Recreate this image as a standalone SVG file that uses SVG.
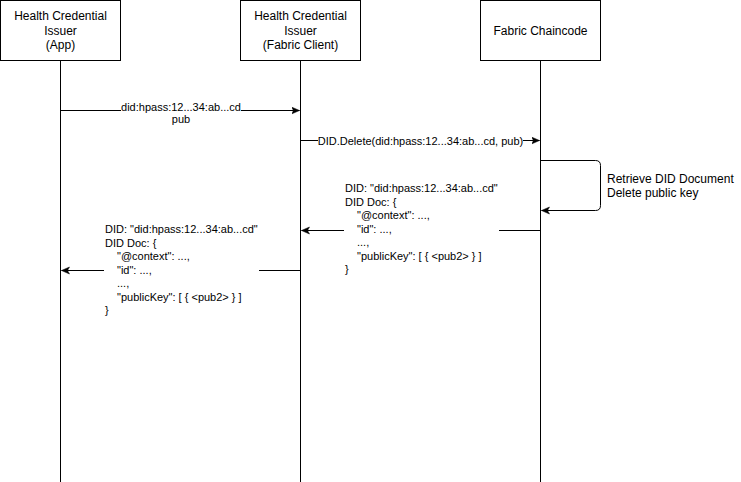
<svg xmlns="http://www.w3.org/2000/svg" width="741" height="482" viewBox="0 0 741 482">
<style>
.box{fill:#fff;stroke:#000;stroke-width:1}
.life{stroke:#000;stroke-width:1;fill:none}
.msg{stroke:#000;stroke-width:1;fill:none}
.t12{font-family:"Liberation Sans",Arial,sans-serif;font-size:12px;fill:#000}
.t11{font-family:"Liberation Sans",Arial,sans-serif;font-size:11px;fill:#000}
.bg{fill:#fff}
</style>
<defs>
<marker id="ah" markerWidth="10" markerHeight="10" refX="8" refY="4" orient="auto" markerUnits="userSpaceOnUse">
<path d="M0,0.5 L8,4 L0,7.5 L2,4 z" fill="#000" stroke="#000" stroke-width="0.5"/>
</marker>
</defs>
<rect width="741" height="482" fill="#fff"/>
<g id="lifelines">
<line class="life" x1="60.5" y1="60" x2="60.5" y2="482"/>
<line class="life" x1="300.5" y1="60" x2="300.5" y2="482"/>
<line class="life" x1="540.5" y1="60" x2="540.5" y2="482"/>
</g>
<g id="node-app">
<rect class="box" x="0.5" y="0.5" width="120" height="60"/>
<text class="t12" text-anchor="middle" x="60.5"><tspan x="60.5" y="20">Health Credential</tspan><tspan x="60.5" y="34.5">Issuer</tspan><tspan x="60.5" y="49">(App)</tspan></text>
</g>
<g id="node-client">
<rect class="box" x="240.5" y="0.5" width="120" height="60"/>
<text class="t12" text-anchor="middle" x="300.5"><tspan x="300.5" y="20">Health Credential</tspan><tspan x="300.5" y="34.5">Issuer</tspan><tspan x="300.5" y="49">(Fabric Client)</tspan></text>
</g>
<g id="node-chaincode">
<rect class="box" x="480.5" y="0.5" width="120" height="60"/>
<text class="t12" text-anchor="middle" x="540.5" y="34.5">Fabric Chaincode</text>
</g>
<g id="connectors">
<line class="msg" x1="60.5" y1="110.5" x2="299.5" y2="110.5" marker-end="url(#ah)"/>
<rect class="bg" x="121" y="101" width="120" height="14"/>
<text class="t11" text-anchor="middle"><tspan x="181" y="110.5">did:hpass:12...34:ab...cd</tspan><tspan x="181" y="123">pub</tspan></text>

<line class="msg" x1="300.5" y1="140.5" x2="539.5" y2="140.5" marker-end="url(#ah)"/>
<rect class="bg" x="318" y="133" width="205" height="14"/>
<text class="t11" text-anchor="middle" x="420.5" y="144.5">DID.Delete(did:hpass:12...34:ab...cd, pub)</text>

<path class="msg" d="M540.5,160.5 H595.5 Q600.5,160.5 600.5,165.5 V205.5 Q600.5,210.5 595.5,210.5 H541.5" marker-end="url(#ah)"/>
<text class="t12"><tspan x="607" y="183">Retrieve DID Document</tspan><tspan x="607" y="197">Delete public key</tspan></text>

<line class="msg" x1="540.5" y1="230.5" x2="301.5" y2="230.5" marker-end="url(#ah)"/>
<rect class="bg" x="344" y="183" width="155" height="93"/>
<text class="t11"><tspan x="345" y="192">DID: "did:hpass:12...34:ab...cd"</tspan><tspan x="345" y="205.5">DID Doc: {</tspan><tspan x="357" y="219">"@context": ...,</tspan><tspan x="357" y="232.5">"id": ...,</tspan><tspan x="357" y="246">...,</tspan><tspan x="357" y="259.5">"publicKey": [ { &lt;pub2&gt; } ]</tspan><tspan x="345" y="273">}</tspan></text>

<line class="msg" x1="300.5" y1="270.5" x2="61.5" y2="270.5" marker-end="url(#ah)"/>
<rect class="bg" x="104" y="223" width="155" height="93"/>
<text class="t11"><tspan x="105" y="233">DID: "did:hpass:12...34:ab...cd"</tspan><tspan x="105" y="246.5">DID Doc: {</tspan><tspan x="117" y="260">"@context": ...,</tspan><tspan x="117" y="273.5">"id": ...,</tspan><tspan x="117" y="287">...,</tspan><tspan x="117" y="300.5">"publicKey": [ { &lt;pub2&gt; } ]</tspan><tspan x="105" y="314">}</tspan></text>
</g>
</svg>
